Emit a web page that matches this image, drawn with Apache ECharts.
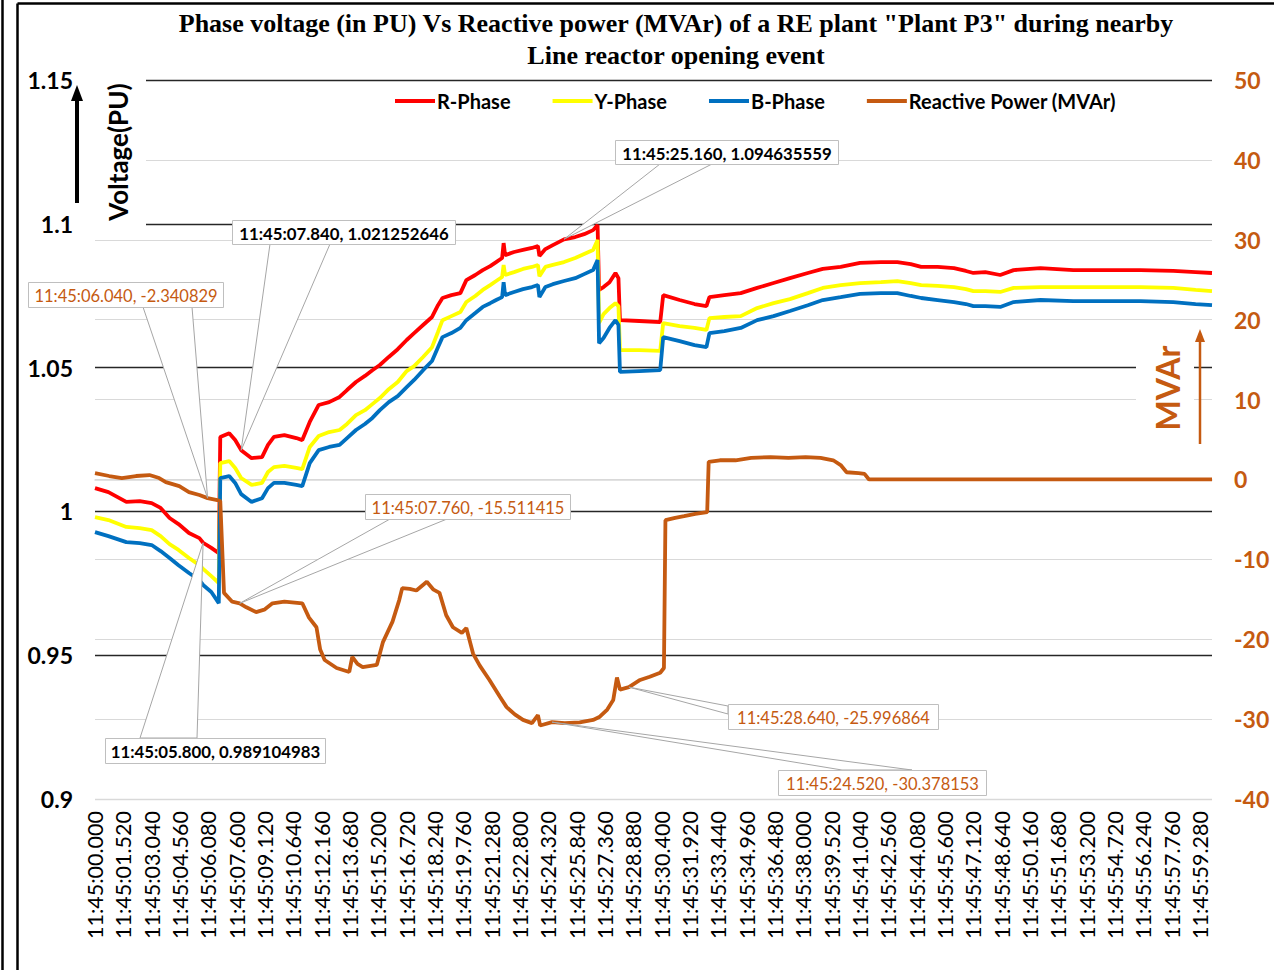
<!DOCTYPE html>
<html><head><meta charset="utf-8">
<script src="https://cdn.jsdelivr.net/npm/echarts@6/dist/echarts.min.js"></script>
<style>html,body{margin:0;padding:0;background:#fff}#c{width:1274px;height:970px}</style>
</head><body><div id="c"></div>
<script>
// ---------------- DATA ----------------
const seriesNames = ['R-Phase', 'Y-Phase', 'B-Phase', 'Reactive Power (MVAr)'];
// seconds after 11:45:00.000
const vTime = [0,0.72,1.68,2.40,3.04,3.52,4.00,4.48,5.04,5.60,5.80,6.24,6.64,6.72,7.20,7.52,7.84,8.40,8.96,9.28,9.60,10.16,10.80,11.12,11.52,12.00,12.56,13.12,13.52,14.00,14.48,14.88,15.28,15.76,16.24,16.72,17.12,17.60,18.08,18.40,18.64,19.12,19.60,19.92,20.40,20.80,21.20,21.52,21.84,21.92,22.00,22.48,22.96,23.44,23.76,23.84,24.16,24.56,25.16,25.76,26.24,26.72,26.96,27.04,27.28,27.60,27.92,28.08,28.16,29.20,30.32,30.48,31.36,32.16,32.80,32.96,33.76,34.64,35.52,36.40,37.28,38.24,39.04,40.00,41.04,42.16,43.04,43.76,44.32,45.20,46.08,46.72,47.12,47.76,48.56,49.28,50.72,52.48,53.92,56.08,57.84,59.04,59.92];
const rPhase = [1.0081,1.0067,1.0033,1.0036,1.0029,1.0012,0.9977,0.9956,0.9925,0.9907,0.9891,0.9873,0.9855,
1.0259,1.0272,1.0248,1.0213,1.0185,1.0189,1.0231,1.0259,1.0265,1.0255,1.0248,
1.0311,1.0370,1.0380,1.0398,1.0422,1.0450,1.0471,1.0491,1.0509,1.0537,1.0564,1.0596,1.0620,1.0648,1.0676,1.0717,1.0742,1.0752,1.0759,1.0804,1.0822,1.0839,1.0853,1.0867,1.0881,1.0933,1.0891,1.0902,1.0909,1.0916,1.0923,1.0888,1.0912,1.0926,1.0946,1.0954,1.0964,1.0978,1.0996,
1.0770,1.0780,1.0797,1.0829,1.0811,1.0665,1.0662,1.0658,1.0752,1.0735,1.0721,1.0714,1.0745,1.0752,1.0759,1.0777,1.0794,1.0811,1.0829,1.0843,1.0850,1.0864,1.0867,1.0867,1.0860,1.0850,1.0850,1.0846,1.0836,1.0829,1.0832,1.0822,1.0839,1.0846,1.0839,1.0839,1.0839,1.0836,1.0832,1.0829];
const yPhase = [0.9980,0.9970,0.9946,0.9942,0.9935,0.9914,0.9886,0.9866,0.9838,0.9813,0.9800,0.9775,0.9751,
1.0168,1.0175,1.0151,1.0116,1.0092,1.0099,1.0137,1.0154,1.0158,1.0151,1.0147,
1.0224,1.0262,1.0276,1.0283,1.0304,1.0335,1.0352,1.0373,1.0394,1.0425,1.0450,1.0488,1.0505,1.0537,1.0571,1.0624,1.0665,1.0679,1.0693,1.0728,1.0749,1.0770,1.0787,1.0801,1.0815,1.0857,1.0822,1.0832,1.0843,1.0850,1.0857,1.0818,1.0850,1.0857,1.0867,1.0881,1.0895,1.0909,1.0944,
1.0655,1.0686,1.0707,1.0724,1.0714,1.0561,1.0561,1.0558,1.0655,1.0644,1.0638,1.0631,1.0672,1.0676,1.0679,1.0707,1.0724,1.0738,1.0759,1.0777,1.0787,1.0794,1.0797,1.0801,1.0794,1.0787,1.0784,1.0780,1.0773,1.0766,1.0766,1.0763,1.0777,1.0780,1.0780,1.0780,1.0780,1.0777,1.0770,1.0766];
const bPhase = [0.9928,0.9914,0.9893,0.9890,0.9883,0.9862,0.9838,0.9813,0.9786,0.9761,0.9744,0.9720,0.9681,
1.0116,1.0123,1.0099,1.0060,1.0033,1.0046,1.0081,1.0099,1.0099,1.0092,1.0088,
1.0168,1.0213,1.0224,1.0231,1.0255,1.0283,1.0304,1.0325,1.0352,1.0380,1.0401,1.0432,1.0457,1.0491,1.0523,1.0571,1.0606,1.0620,1.0638,1.0665,1.0690,1.0711,1.0724,1.0735,1.0745,1.0797,1.0752,1.0763,1.0773,1.0780,1.0787,1.0745,1.0780,1.0790,1.0801,1.0811,1.0825,1.0839,1.0874,
1.0585,1.0603,1.0638,1.0665,1.0648,1.0485,1.0488,1.0491,1.0606,1.0592,1.0578,1.0571,1.0620,1.0627,1.0638,1.0665,1.0679,1.0697,1.0717,1.0735,1.0745,1.0756,1.0759,1.0759,1.0749,1.0742,1.0735,1.0728,1.0721,1.0714,1.0714,1.0711,1.0728,1.0735,1.0731,1.0731,1.0731,1.0728,1.0721,1.0717];
const qTime = [0,0.76,1.44,2.20,2.92,3.44,3.80,4.52,5.04,5.60,6.04,6.56,6.72,6.92,7.36,7.76,8.12,8.64,9.08,9.52,10.16,11.12,11.48,11.88,12.08,12.32,12.96,13.64,13.80,14.08,14.36,15.12,15.44,15.96,16.32,16.48,16.88,17.24,17.80,18.16,18.48,18.84,19.20,19.68,19.92,20.28,20.64,21.16,21.72,22.08,22.52,22.96,23.44,23.76,23.88,24.52,25.20,26.00,26.72,27.08,27.48,27.80,28.00,28.16,28.64,29.24,29.76,30.32,30.52,30.60,31.12,31.60,32.20,32.84,32.92,33.52,34.36,35.20,36.24,37.20,38.12,38.92,39.60,40.00,40.32,40.96,41.28,41.52,59.92];
const reactive = [0.80,0.43,0.18,0.43,0.55,0.18,-0.33,-0.83,-1.58,-1.95,-2.34,-2.58,-2.70,-14.20,-15.30,-15.51,-16.00,-16.60,-16.30,-15.50,-15.30,-15.50,-17.30,-18.50,-21.30,-22.60,-23.60,-24.10,-22.20,-23.10,-23.50,-23.20,-20.40,-17.80,-15.10,-13.60,-13.70,-13.90,-12.80,-13.80,-14.20,-17.00,-18.50,-19.20,-18.60,-21.80,-23.30,-25.10,-27.20,-28.50,-29.40,-30.10,-30.50,-29.50,-30.80,-30.38,-30.50,-30.40,-30.10,-29.70,-28.80,-27.60,-24.80,-26.30,-26.00,-25.10,-24.70,-24.20,-23.60,-5.10,-4.80,-4.60,-4.30,-4.10,2.20,2.40,2.40,2.70,2.80,2.70,2.80,2.70,2.40,1.80,0.90,0.80,0.70,0,0];
// axis ticks
const xTickStep = 1.52;            // label every 1.520 s, 11:45:00.000 ... 11:45:59.280
const xMax = 59.92;
const voltTicks = [0.9, 1.15, 0.05];   // min, max, interval
const mvarTicks = [-40, 50, 10];
// data callouts
const calloutLabels = ['11:45:25.160, 1.094635559','11:45:07.840, 1.021252646','11:45:06.040, -2.340829','11:45:07.760, -15.511415','11:45:05.800, 0.989104983','11:45:28.640, -25.996864','11:45:24.520, -30.378153'];
const calloutTimes = [25.16, 7.84, 6.04, 7.76, 5.80, 28.64, 24.52];
const calloutValues = [1.094635559, 1.021252646, -2.340829, -15.511415, 0.989104983, -25.996864, -30.378153];
const calloutAxis = [0, 0, 1, 1, 0, 1, 1];

// ---------------- STYLE / LAYOUT ----------------
const FONT = 'Lato, "Open Sans", sans-serif';
const ORANGE = '#C55A11';
const colors = ['#FF0000', '#FFFF00', '#0070C0', ORANGE];
const calloutLayout = [
  {box:[615,140,223,24], base:[[660,164],[712,164]], color:'#000', bold:true},
  {box:[232,220,223,24], base:[[270,244],[330,244]], color:'#000', bold:true},
  {box:[28,282,195,25],  base:[[143,307],[192,307]], color:ORANGE, bold:false},
  {box:[365,494,205,25], base:[[390,519],[447,519]], color:ORANGE, bold:false},
  {box:[105,738,220,25], base:[[140,738],[197,738]], color:'#000', bold:true},
  {box:[728,704,210,25], base:[[728,706],[728,714]], color:ORANGE, bold:false},
  {box:[778,770,208,25], base:[[842,770],[912,770]], color:ORANGE, bold:false}
];

function fmtTime(v) {
  const k = v / xTickStep;
  if (Math.abs(k - Math.round(k)) > 1e-6) return '';
  const s = (Math.round(v * 1000) / 1000).toFixed(3).split('.');
  return '11:45:' + s[0].padStart(2, '0') + '.' + s[1];
}

const chart = echarts.init(document.getElementById('c'), null, {renderer: 'svg', width: 1274, height: 970});

const grey = '#d9d9d9';
const voltLineColors = [grey, '#262626', '#262626', '#262626', '#262626', '#262626'];
const mvarLineColors = [grey, grey, grey, grey, grey, grey, grey, grey, grey, 'rgba(0,0,0,0)'];

function lineSeries(name, idx, times, vals, yAxisIndex) {
  return {
    name: name, type: 'line', yAxisIndex: yAxisIndex,
    data: times.map((t, i) => [t, vals[i]]),
    showSymbol: false, symbol: 'none', smooth: false,
    lineStyle: {color: colors[idx], width: 3.8},
    itemStyle: {color: colors[idx]},
    z: 2 + idx
  };
}

chart.setOption({
  animation: false,
  grid: {left: 95, right: 62, top: 80, bottom: 171, containLabel: false, outerBoundsMode: 'none'},
  legend: {
    left: 395, top: 91, padding: 0, icon: 'rect', itemWidth: 40, itemHeight: 4, itemGap: 42,
    textStyle: {fontFamily: FONT, fontSize: 20, fontWeight: 'bold', color: '#000', padding: [0, 0, 0, -3]},
    data: seriesNames
  },
  xAxis: {
    type: 'value', min: 0, max: xMax, interval: xTickStep,
    axisLine: {show: true, lineStyle: {color: grey, width: 1.5}},
    axisTick: {show: false}, splitLine: {show: false},
    axisLabel: {rotate: 90, margin: 12, formatter: fmtTime, color: '#000', fontFamily: FONT, fontSize: 21.5}
  },
  yAxis: [
    {type: 'value', position: 'left', min: voltTicks[0], max: voltTicks[1], interval: voltTicks[2],
     axisLine: {show: false}, axisTick: {show: false},
     axisLabel: {color: '#000', fontFamily: FONT, fontSize: 23, fontWeight: 'bold', margin: 22},
     splitLine: {show: true, lineStyle: {color: voltLineColors, width: 1.4}}},
    {type: 'value', position: 'right', min: mvarTicks[0], max: mvarTicks[1], interval: mvarTicks[2],
     axisLine: {show: false}, axisTick: {show: false},
     axisLabel: {color: ORANGE, fontFamily: FONT, fontSize: 23, fontWeight: 'bold', margin: 22},
     splitLine: {show: true, lineStyle: {color: mvarLineColors, width: 1.2}}}
  ],
  series: [
    lineSeries(seriesNames[0], 0, vTime, rPhase, 0),
    lineSeries(seriesNames[1], 1, vTime, yPhase, 0),
    lineSeries(seriesNames[2], 2, vTime, bPhase, 0),
    lineSeries(seriesNames[3], 3, qTime, reactive, 1)
  ]
});

// ---------------- graphics: title, axis titles, masks, frame, callouts ----------------
const g = [];
// frame
g.push({type: 'line', shape: {x1: 2.5, y1: 0, x2: 2.5, y2: 970}, style: {stroke: '#000', lineWidth: 2.5}, z: 200});
g.push({type: 'line', shape: {x1: 17.5, y1: 3.5, x2: 17.5, y2: 970}, style: {stroke: '#000', lineWidth: 2.5}, z: 200});
g.push({type: 'line', shape: {x1: 17.5, y1: 3.5, x2: 1274, y2: 3.5}, style: {stroke: '#000', lineWidth: 2.5}, z: 200});
// title
g.push({type: 'text', x: 676, y: 23, z: 50, style: {text: 'Phase voltage (in PU) Vs Reactive power (MVAr) of a RE plant "Plant P3" during nearby', fill: '#000', font: 'bold 26px "Liberation Serif", serif', align: 'center', verticalAlign: 'middle'}});
g.push({type: 'text', x: 676, y: 55, z: 50, style: {text: 'Line reactor opening event', fill: '#000', font: 'bold 26px "Liberation Serif", serif', align: 'center', verticalAlign: 'middle'}});
// masks behind axis titles
g.push({type: 'rect', shape: {x: 94, y: 68, width: 52, height: 165}, style: {fill: '#fff'}, z: 1});
g.push({type: 'rect', shape: {x: 1136, y: 328, width: 58, height: 118}, style: {fill: '#fff'}, z: 1});
// Voltage(PU) title + arrow
g.push({type: 'text', x: 118, y: 152, rotation: Math.PI / 2, z: 5, style: {text: 'Voltage(PU)', fill: '#000', font: 'bold 26px ' + FONT, align: 'center', verticalAlign: 'middle'}});
g.push({type: 'line', shape: {x1: 77, y1: 203, x2: 77, y2: 99}, style: {stroke: '#000', lineWidth: 4}, z: 5});
g.push({type: 'polygon', shape: {points: [[71, 101], [83, 101], [77, 85]]}, style: {fill: '#000'}, z: 5});
// MVAr title + arrow
g.push({type: 'text', x: 1167, y: 388, rotation: Math.PI / 2, z: 5, style: {text: 'MVAr', fill: ORANGE, font: 'bold 32px ' + FONT, align: 'center', verticalAlign: 'middle'}});
g.push({type: 'line', shape: {x1: 1200, y1: 444, x2: 1200, y2: 340}, style: {stroke: ORANGE, lineWidth: 2.5}, z: 5});
g.push({type: 'polygon', shape: {points: [[1195, 342], [1205, 342], [1200, 329]]}, style: {fill: ORANGE}, z: 5});
// callouts
calloutLabels.forEach((lab, i) => {
  const L = calloutLayout[i];
  const tip = chart.convertToPixel({xAxisIndex: 0, yAxisIndex: calloutAxis[i]}, [calloutTimes[i], calloutValues[i]]);
  g.push({type: 'polygon', shape: {points: [L.base[0], tip, L.base[1]]}, style: {fill: '#fff', stroke: '#a6a6a6', lineWidth: 1}, z: 100});
  g.push({type: 'rect', shape: {x: L.box[0] + 0.5, y: L.box[1] + 0.5, width: L.box[2], height: L.box[3]}, style: {fill: '#fff', stroke: '#bfbfbf', lineWidth: 1}, z: 101});
  g.push({type: 'text', x: L.box[0] + L.box[2] / 2 + 0.5, y: L.box[1] + L.box[3] / 2 + 1, z: 102,
    style: {text: lab, fill: L.color, font: (L.bold ? 'bold 16.8px ' : '16.5px ') + FONT, align: 'center', verticalAlign: 'middle'}});
});
chart.setOption({graphic: {elements: g}});
</script>
</body></html>
